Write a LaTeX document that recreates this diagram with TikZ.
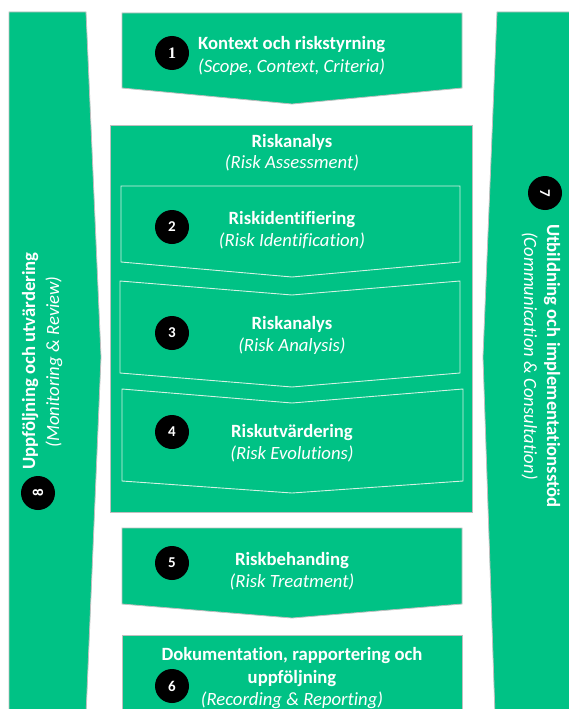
\documentclass[tikz,border=0pt]{standalone}
\usepackage{fontspec}
\setmainfont{Carlito}[Ligatures=NoCommon]
\newfontfamily\serifnum{Liberation Serif}
\definecolor{grn}{HTML}{00C285}
\definecolor{edgegray}{HTML}{BFBFBF}
\definecolor{inneredge}{HTML}{D4F2E4}
\begin{document}
\begin{tikzpicture}[x=1pt,y=-1pt,
  panel/.style={fill=grn,draw=edgegray,line width=0.8pt},
  subpanel/.style={fill=grn,draw=inneredge,line width=0.9pt},
  ttl/.style={text=white,font=\fontsize{18.7}{22}\selectfont\bfseries,inner sep=0pt,anchor=base},
  sub/.style={text=white,font=\fontsize{18.7}{22}\selectfont\itshape,inner sep=0pt,anchor=base},
  badge/.style={circle,fill=black,minimum size=34pt,inner sep=0pt,text=white,font=\fontsize{15}{15}\selectfont\bfseries},
]
\useasboundingbox (0,0) rectangle (569,709);
\fill[white] (0,0) rectangle (569,709);
% side columns
\draw[panel] (9,12) -- (86,12) -- (101,357) -- (86,715) -- (9,715) -- cycle;
\draw[panel] (497,12) -- (575,12) -- (575,715) -- (495,715) -- (483,357) -- cycle;
% step 1
\draw[panel] (122,13) -- (462,13) -- (462,88) -- (292,104) -- (122,88) -- cycle;
% risk assessment frame
\draw[panel] (110,125) rectangle (472,512);
\draw[subpanel] (121,186) -- (460,186) -- (460,262) -- (292,277) -- (121,262) -- cycle;
\draw[subpanel] (120,281) -- (292,295) -- (460,281) -- (460,373) -- (292,387) -- (120,373) -- cycle;
\draw[subpanel] (122,389) -- (292,403) -- (463,389) -- (463,481) -- (292,493) -- (122,481) -- cycle;
% step 5 and 6
\draw[panel] (122,528) -- (462,528) -- (462,604) -- (292,618) -- (122,604) -- cycle;
\draw[panel] (122,635) -- (462,635) -- (462,715) -- (122,715) -- cycle;

% texts
\node[ttl,anchor=base west] (t1) at (198,50) {Kontext och riskstyrning};
\node[sub,anchor=base west] (s1) at (198,72) {(Scope, Context, Criteria)};
\node[badge] (b1) at (172,53) {\serifnum\fontsize{16}{16}\selectfont 1};

\node[ttl] (ta) at (292,147) {Riskanalys};
\node[sub] (sa) at (292,168) {(Risk Assessment)};

\node[ttl] (t2) at (292,224) {Riskidentifiering};
\node[sub] (s2) at (292,246) {(Risk Identification)};
\node[badge] (b2) at (172,227) {2};

\node[ttl] (t3) at (292,329) {Riskanalys};
\node[sub] (s3) at (292,351) {(Risk Analysis)};
\node[badge] (b3) at (172,333) {3};

\node[ttl] (t4) at (292,437) {Riskutvärdering};
\node[sub] (s4) at (292,459) {(Risk Evolutions)};
\node[badge] (b4) at (172,432) {4};

\node[ttl] (t5) at (292,565) {Riskbehanding};
\node[sub] (s5) at (292,587) {(Risk Treatment)};
\node[badge] (b5) at (172,563) {5};

\node[ttl] (t6a) at (292,660) {Dokumentation, rapportering och};
\node[ttl] (t6b) at (292,683) {uppföljning};
\node[sub] (s6) at (292,705) {(Recording \& Reporting)};
\node[badge] (b6) at (172,686) {6};

% left column
\node[ttl,rotate=90] (t8) at (35,361) {Uppföljning och utvärdering};
\node[sub,rotate=90] (s8) at (59,362) {(Monitoring \& Review)};
\node[badge,rotate=90] (b8) at (38,493) {8};

% right column
\node[ttl,rotate=-90] (t7) at (547,366) {Utbildning och implementationsstöd};
\node[sub,rotate=-90] (s7) at (524,356) {(Communication \& Consultation)};
\node[badge,rotate=-90] (b7) at (545,193) {7};
\end{tikzpicture}
\end{document}
